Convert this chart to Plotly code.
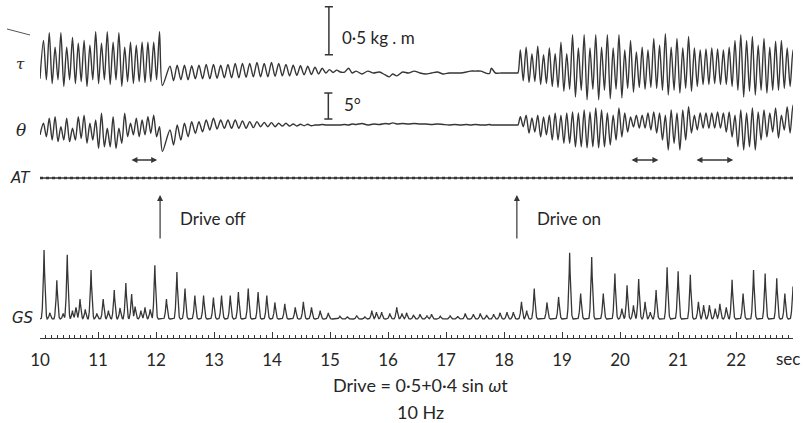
import numpy as np
import plotly.graph_objects as go

# ---------------- data read from the record ----------------
DRIVE_HZ = 10.0          # forcing frequency (Hz)
NATURAL_HZ = 8.0         # free oscillation after drive off (Hz)
T_START, T_END = 10.0, 22.98
DRIVE_OFF_T = 12.07
DRIVE_ON_T = 18.22
SEG1_FIRST_PEAK = 10.06
DECAY_FIRST_PEAK = 12.24
SEG2_FIRST_PEAK = 18.28
TAU_BAR = 0.5            # kg.m calibration
THETA_BAR = 5.0          # degrees calibration

# torque tau (kg.m, relative to rest)
tau_seg1_peaks = [0.34, 0.42, 0.27, 0.42, 0.27, 0.37, 0.31, 0.34, 0.29, 0.43, 0.31,
                  0.43, 0.32, 0.42, 0.27, 0.32, 0.29, 0.32, 0.32, 0.32, 0.43]
tau_seg1_troughs = [-0.07, -0.11, -0.07, -0.14, -0.07, -0.11, -0.09, -0.14, -0.07, -0.11, -0.07,
                    -0.12, -0.07, -0.14, -0.09, -0.11, -0.09, -0.10, -0.09, -0.07, -0.13]
tau_decay_peaks = [0.07, 0.08, 0.08, 0.075, 0.08, 0.09, 0.09, 0.08, 0.09, 0.10, 0.10, 0.10,
                   0.11, 0.10, 0.11, 0.10, 0.09, 0.08, 0.075, 0.07, 0.06, 0.05, 0.035, 0.03]
tau_decay_troughs = [-0.08, -0.07, -0.07, -0.06, -0.06, -0.06, -0.055, -0.05, -0.05, -0.05, -0.045, -0.04,
                     -0.04, -0.04, -0.035, -0.03, -0.03, -0.025, -0.02, -0.015, -0.01, 0.0, 0.005, 0.01]
quiet_t = [15.25, 15.32, 15.38, 15.45, 15.55, 15.65, 15.75, 15.85, 15.95, 16.02,
           16.08, 16.15, 16.25, 16.35, 16.45, 16.55, 16.65, 16.75, 16.85, 16.95,
           17.05, 17.15, 17.25, 17.35, 17.42, 17.5, 17.6, 17.68, 17.75, 17.78,
           17.85, 17.95, 18.05, 18.15, 18.22]
tau_quiet = [0.01, 0.05, 0.0, 0.02, -0.01, 0.02, 0.0, 0.01, -0.02, -0.04,
             -0.01, -0.03, 0.01, 0.0, 0.02, 0.0, -0.01, 0.0, 0.01, -0.01,
             0.0, 0.0, 0.0, 0.01, 0.02, 0.02, 0.02, 0.0, -0.005, 0.05,
             0.0, 0.0, 0.0, 0.0, 0.0]
tau_seg2_peaks = [0.24, 0.27, 0.20, 0.28, 0.19, 0.26, 0.20, 0.32, 0.20, 0.40, 0.26, 0.40,
                  0.26, 0.40, 0.27, 0.40, 0.26, 0.40, 0.24, 0.34, 0.22, 0.27, 0.24,
                  0.36, 0.29, 0.41, 0.27, 0.36, 0.26, 0.38, 0.26, 0.24, 0.25, 0.26, 0.25,
                  0.24, 0.27, 0.34, 0.40, 0.34, 0.38, 0.29, 0.36, 0.27, 0.33, 0.34, 0.26, 0.24]
tau_seg2_troughs = [-0.08, -0.10, -0.09, -0.12, -0.11, -0.14, -0.15, -0.19, -0.17, -0.25, -0.18, -0.28,
                    -0.17, -0.28, -0.18, -0.27, -0.17, -0.26, -0.16, -0.20, -0.15, -0.17, -0.15,
                    -0.16, -0.18, -0.23, -0.18, -0.21, -0.16, -0.19, -0.14, -0.12, -0.12, -0.11, -0.12,
                    -0.12, -0.14, -0.18, -0.25, -0.19, -0.23, -0.18, -0.21, -0.18, -0.18, -0.16, -0.14, -0.12]

# angle theta (degrees, relative to rest)
theta_seg1_peaks = [0.33, 1.3, 1.6, -0.33, 1.3, -0.63, 1.6, 1.9, 0.33, 0.96, 2.25,
                    -0.63, 1.6, -0.63, 2.25, 0.33, 1.3, 0.96, 1.6, 1.9, -0.33]
theta_seg1_troughs = [-2.25, -2.9, -3.2, -2.9, -3.2, -2.9, -2.6, -3.5, -2.9, -4.5, -4.2,
                      -4.2, -4.5, -3.5, -2.25, -1.9, -2.25, -1.9, -1.6, -2.25, -5.1]
theta_decay_peaks = [-0.96, 0.0, 0.33, 0.64, 0.64, 0.96, 1.3, 0.96, 0.96, 0.96, 0.8, 0.64,
                     0.64, 0.5, 0.45, 0.33, 0.33, 0.2, 0.13, 0.13, 0.0, 0.1, 0.0, 0.0]
theta_decay_troughs = [-3.85, -2.9, -2.25, -1.6, -1.3, -0.96, -0.77, -0.64, -0.64, -0.64, -0.64, -0.5,
                       -0.33, -0.33, -0.33, -0.2, -0.2, -0.2, -0.13, -0.13, 0.0, 0.0, 0.0, 0.0]
theta_quiet = [0.1, 0.0, 0.2, 0.1, 0.3, 0.0, 0.2, 0.1, 0.3, 0.2,
               0.4, 0.2, 0.3, 0.2, 0.3, 0.2, 0.2, 0.1, 0.2, 0.1,
               0.0, 0.1, 0.0, 0.1, 0.0, 0.1, 0.0, 0.0, 0.1, 0.0,
               0.0, 0.0, 0.0, 0.0, 0.0]
theta_seg2_peaks = [1.6, 1.9, 1.35, 1.9, 1.55, 1.9, 2.3, 1.9, 2.3, 2.5, 2.3, 2.9,
                    2.5, 3.3, 2.9, 2.3, 1.9, 3.3, 2.3, 1.55, 1.9, 1.9, 2.3, 2.5,
                    2.3, 1.9, 2.9, 2.3, 2.9, 3.5, 1.9, 2.3, 2.3, 2.3, 2.5, 2.3,
                    2.5, 1.9, 2.9, 2.3, 3.3, 2.5, 2.9, 2.3, 3.3, 1.9, 3.5, 3.85]
theta_seg2_troughs = [-0.33, -1.55, -1.35, -2.3, -1.9, -2.9, -2.9, -3.5, -3.5, -4.2, -4.2, -4.4,
                      -4.2, -4.4, -4.2, -3.85, -2.9, -2.3, -1.35, -0.4, -0.6, -0.6, -0.96, -1.55,
                      -2.9, -4.8, -3.5, -4.8, -2.9, -1.55, -0.96, -0.6, -0.6, -0.6, -0.6, -1.35,
                      -2.3, -4.2, -4.8, -4.2, -4.8, -2.9, -2.3, -1.35, -2.5, -0.96, -1.55, -1.0]

# AT record: no activity
at_t = [T_START, T_END]
at_v = [0.0, 0.0]

# GS (gastrocnemius-soleus EMG) bursts: time (s) and relative height
gs_spike_t = [10.07, 10.17, 10.29, 10.40, 10.47, 10.56, 10.62, 10.69, 10.78, 10.88, 10.98,
              11.09, 11.18, 11.28, 11.38, 11.48, 11.58, 11.64, 11.74, 11.81, 11.90, 11.98,
              12.18, 12.36, 12.50, 12.67, 12.82, 12.99, 13.13, 13.28, 13.42, 13.59, 13.76,
              13.91, 14.05, 14.22, 14.40, 14.54, 14.68, 14.83, 14.97,
              15.17, 15.30, 15.46, 15.60, 15.72, 15.80, 15.89, 16.03, 16.15, 16.24, 16.32,
              16.44, 16.55, 16.67, 16.75, 16.90, 17.07, 17.20, 17.33, 17.47, 17.59, 17.70,
              17.82, 17.93, 18.05, 18.16,
              18.30, 18.39, 18.52, 18.74, 18.94, 19.13, 19.32, 19.51, 19.71, 19.91, 20.03,
              20.12, 20.23, 20.32, 20.43, 20.52, 20.62, 20.81, 21.00, 21.21, 21.35, 21.44,
              21.54, 21.64, 21.72, 21.83, 21.93, 22.12, 22.30, 22.50, 22.70, 22.84, 22.98]
gs_spike_h = [1.0, 0.09, 0.56, 0.08, 0.93, 0.12, 0.17, 0.29, 0.14, 0.71, 0.08,
              0.29, 0.12, 0.42, 0.16, 0.52, 0.36, 0.18, 0.12, 0.17, 0.14, 0.78,
              0.29, 0.68, 0.44, 0.34, 0.34, 0.31, 0.34, 0.34, 0.39, 0.44, 0.39,
              0.34, 0.24, 0.22, 0.17, 0.25, 0.17, 0.12, 0.09,
              0.04, 0.03, 0.05, 0.03, 0.12, 0.10, 0.10, 0.08, 0.17, 0.08, 0.09,
              0.06, 0.07, 0.05, 0.07, 0.04, 0.05, 0.04, 0.08, 0.07, 0.08, 0.06,
              0.07, 0.09, 0.10, 0.10,
              0.25, 0.12, 0.44, 0.24, 0.32, 0.96, 0.37, 0.90, 0.37, 0.66, 0.15,
              0.49, 0.20, 0.58, 0.25, 0.10, 0.42, 0.75, 0.69, 0.64, 0.25, 0.20,
              0.20, 0.15, 0.22, 0.17, 0.57, 0.37, 0.71, 0.66, 0.59, 0.37, 0.47]

# intervals marked with double arrows (s)
beat_windows = [(11.55, 12.02), (20.17, 20.66), (21.29, 21.95)]

# ---------------- build traces ----------------
def zigzag(t0, period, peaks, troughs):
    ts, vs = [], []
    for k, (p, q) in enumerate(zip(peaks, troughs)):
        ts += [t0 + k * period, t0 + k * period + period / 2]
        vs += [p, q]
    return ts, vs

def record(start_v, seg1, decay, quiet, seg2):
    t, v = [T_START], [start_v]
    a, b = zigzag(SEG1_FIRST_PEAK, 1 / DRIVE_HZ, *seg1); t += a; v += b
    a, b = zigzag(DECAY_FIRST_PEAK, 1 / NATURAL_HZ, *decay); t += a; v += b
    t += quiet_t; v += quiet
    t += [DRIVE_ON_T + 0.02]; v += [0.0]
    a, b = zigzag(SEG2_FIRST_PEAK, 1 / DRIVE_HZ, *seg2); t += a; v += b
    return t, v

tau_t, tau_v = record(-0.06, (tau_seg1_peaks, tau_seg1_troughs),
                      (tau_decay_peaks, tau_decay_troughs), tau_quiet,
                      (tau_seg2_peaks, tau_seg2_troughs))
th_t, th_v = record(-1.9, (theta_seg1_peaks, theta_seg1_troughs),
                    (theta_decay_peaks, theta_decay_troughs), theta_quiet,
                    (theta_seg2_peaks, theta_seg2_troughs))

# render each burst as a sharp spike with a rounded foot
gs_grid = np.arange(T_START, T_END + 1e-9, 0.002)
gs_y = np.zeros_like(gs_grid)
for ts, h in zip(gs_spike_t, gs_spike_h):
    d = np.clip(1 - np.abs(gs_grid - ts) / 0.055, 0, None)
    gs_y = np.maximum(gs_y, h * d ** 2.3)

INK = "#363636"
TXT = "#262626"
W, H = 807, 423

def py(p):  # paper fraction from pixel row
    return 1 - p / H

fig = go.Figure()
fig.add_trace(go.Scatter(x=tau_t, y=tau_v, xaxis="x", yaxis="y", mode="lines",
                         line=dict(color=INK, width=1.4, shape="spline", smoothing=0.8),
                         hoverinfo="skip"))
fig.add_trace(go.Scatter(x=th_t, y=th_v, xaxis="x", yaxis="y2", mode="lines",
                         line=dict(color=INK, width=1.4, shape="spline", smoothing=0.8),
                         hoverinfo="skip"))
fig.add_trace(go.Scatter(x=at_t, y=at_v, xaxis="x", yaxis="y3", mode="lines",
                         line=dict(color=INK, width=1.6), hoverinfo="skip"))
fig.add_trace(go.Scatter(x=at_t, y=at_v, xaxis="x", yaxis="y3", mode="lines",
                         line=dict(color=INK, width=2.6, dash="dot"), hoverinfo="skip"))
fig.add_trace(go.Scatter(x=gs_grid, y=gs_y, xaxis="x", yaxis="y4", mode="lines",
                         line=dict(color=INK, width=1.3), hoverinfo="skip"))

hidden = dict(visible=False, fixedrange=True, automargin=False)
fig.update_layout(
    template="none",
    width=W, height=H, margin=dict(l=0, r=0, t=0, b=0, pad=0, autoexpand=False),
    paper_bgcolor="white", plot_bgcolor="rgba(0,0,0,0)", showlegend=False,
    xaxis=dict(domain=[40 / W, 793 / W], range=[T_START, T_END], anchor="free",
               position=py(338), showgrid=False, zeroline=False, automargin=False,
               showline=True, linecolor=INK, linewidth=1.2,
               tickmode="linear", tick0=10, dtick=1, ticks="inside", ticklen=6,
               tickcolor=INK, tickwidth=1.2, ticklabelstandoff=6,
               tickfont=dict(family="Lato", size=17, color=TXT),
               minor=dict(dtick=0.1, tick0=10, ticks="inside", ticklen=3,
                          tickcolor=INK, tickwidth=1, showgrid=False)),
    yaxis=dict(domain=[py(110), 1.0], range=[(73 - 110) / 96, 73 / 96], **hidden),
    yaxis2=dict(domain=[py(165), py(85)], range=[-40 / 5.2, 40 / 5.2], **hidden),
    yaxis3=dict(domain=[py(188), py(168)], range=[-1, 1], **hidden),
    yaxis4=dict(domain=[py(330), py(240)], range=[-11 / 69, 79 / 69], **hidden),
)

# calibration bars
shapes = []
def ibar(x, y0, y1, yref):
    cap = 0.07
    shapes.extend([
        dict(type="line", xref="x", yref=yref, x0=x, x1=x, y0=y0, y1=y1,
             line=dict(color=INK, width=1.5)),
        dict(type="line", xref="x", yref=yref, x0=x - cap, x1=x + cap, y0=y0, y1=y0,
             line=dict(color=INK, width=1.5)),
        dict(type="line", xref="x", yref=yref, x0=x - cap, x1=x + cap, y0=y1, y1=y1,
             line=dict(color=INK, width=1.5)),
    ])
ibar(14.98, 0.19, 0.19 + TAU_BAR, "y")
ibar(14.97, 1.15, 1.15 + THETA_BAR, "y2")
shapes.append(dict(type="line", xref="paper", yref="paper", x0=7 / W, x1=30 / W,
                   y0=py(29), y1=py(35), line=dict(color="#555", width=1)))
fig.update_layout(shapes=shapes)

ann = []
def label(text, x, y, xref="paper", yref="paper", size=17, family="Lato", xanchor="center"):
    ann.append(dict(text=text, x=x, y=y, xref=xref, yref=yref, showarrow=False,
                    xanchor=xanchor, yanchor="middle",
                    font=dict(family=family, size=size, color=TXT)))

label("0·5 kg . m", 15.17, 0.375, xref="x", yref="y", xanchor="left")
label("5°", 15.20, 3.85, xref="x", yref="y2", xanchor="left")
label("<i>τ</i>", 20 / W, py(64), family="DejaVu Serif", size=15)
label("<i>θ</i>", 21 / W, py(130), family="DejaVu Serif", size=17)
label("<i>AT</i>", 20 / W, py(178), family="DejaVu Sans", size=15)
label("<i>GS</i>", 23 / W, py(318), family="DejaVu Sans", size=15)
label("Drive off", 12.38, py(218), xref="x", xanchor="left")
label("Drive on", 18.53, py(218), xref="x", xanchor="left")
label("sec", 22.9, py(358), xref="x")
label("Drive = 0·5+0·4 sin <i>ω</i>t", 420 / W, py(385), size=18)
label("10 Hz", 420 / W, py(412), size=18)

for tx in (DRIVE_OFF_T, DRIVE_ON_T):
    ann.append(dict(text="", x=tx, y=py(195), xref="x", yref="paper", showarrow=True,
                    ax=0, ay=45, arrowhead=2, arrowsize=1, arrowwidth=1.2, arrowcolor=INK))
for a, b in beat_windows:
    ann.append(dict(text="", x=b, y=py(160), xref="x", yref="paper", showarrow=True,
                    axref="x", ax=a, ayref="pixel", ay=0, arrowside="end+start",
                    arrowhead=2, arrowsize=0.8, arrowwidth=1.5, arrowcolor=INK))
fig.update_layout(annotations=ann)

fig.write_html("out.html")
